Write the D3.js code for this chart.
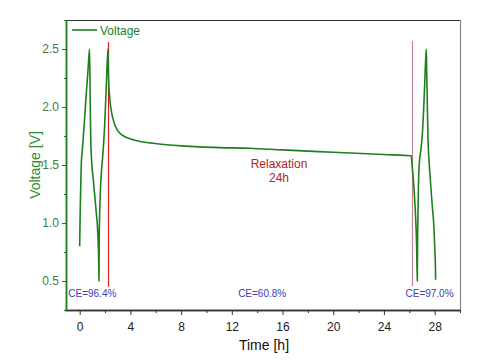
<!DOCTYPE html>
<html><head><meta charset="utf-8">
<script src="https://cdn.jsdelivr.net/npm/d3@7"></script>
<style>body{margin:0;background:#fff}svg{display:block}text{font-family:"Liberation Sans",Arial,sans-serif}</style>
</head><body><svg id="c" width="485" height="360"></svg>
<script>
const timeH = [0,0.04,0.08,0.13,0.2,0.26,0.40,0.53,0.66,0.78,
  0.83,0.87,0.95,1.05,1.18,1.30,1.40,1.47,1.50,1.52,
  1.54,1.57,1.63,1.72,1.80,1.97,2.10,2.23,
  2.28,2.35,2.45,2.6,2.76,2.95,3.2,3.5,3.85,4.3,4.8,5.8,6.84,8,9.46,11.04,13.4,16,20,24,26.16,
  26.22,26.3,26.4,26.5,26.58,26.63,
  26.65,26.69,26.72,26.78,26.9,27.02,27.12,27.21,27.34,
  27.37,27.42,27.47,27.55,27.63,27.74,27.85,27.94,28.02,28.05,28.08];
const voltage = [0.80,1.10,1.30,1.52,1.62,1.70,1.92,2.13,2.32,2.50,
  2.05,1.75,1.52,1.40,1.25,1.10,0.97,0.80,0.68,0.50,
  0.85,1.05,1.26,1.45,1.55,1.84,2.18,2.50,
  2.25,2.10,2.00,1.91,1.85,1.805,1.77,1.748,1.73,1.715,1.703,1.687,1.675,1.665,1.656,1.65,1.645,1.63,1.61,1.59,1.58,
  1.50,1.40,1.25,1.05,0.80,0.50,
  0.80,1.10,1.31,1.50,1.62,1.75,1.95,2.18,2.50,
  2.33,2.04,1.75,1.55,1.42,1.25,1.10,0.97,0.75,0.68,0.51];
const markerTimes = [2.23, 26.2];
const markerTop = [2.56, 2.57];
const markerBottom = [0.45, 0.455];
const ceLabels = ["CE=96.4%","CE=60.8%","CE=97.0%"];
const ceTimes = [-0.9, 12.5, 25.7];
const xMajorTicks = [0,4,8,12,16,20,24,28];
const xMinorTicks = [2,6,10,14,18,22,26,30];
const yMajorTicks = [0.5,1.0,1.5,2.0,2.5];
const yMinorTicks = [0.25,0.75,1.25,1.75,2.25,2.75];

const svg = d3.select("#c");
const L=67, R=460, T=20, B=310;
const x = d3.scaleLinear().domain([-1,30]).range([L,R]);
const y = d3.scaleLinear().domain([0.25,2.75]).range([B,T]);
const green = "#1f7f1f";

// frame
svg.append("line").attr("x1",L).attr("x2",R).attr("y1",T+0.5).attr("y2",T+0.5).attr("stroke","#333").attr("stroke-width",1.2);
svg.append("line").attr("x1",R+0.5).attr("x2",R+0.5).attr("y1",T).attr("y2",B).attr("stroke","#888").attr("stroke-width",1.2);

// x axis
const xg = svg.append("g").attr("transform",`translate(0,${B})`);
xg.call(d3.axisBottom(x).tickValues(xMajorTicks).tickSize(5).tickFormat(d3.format("d")));
xg.append("g").call(d3.axisBottom(x).tickValues(xMinorTicks).tickSize(3).tickFormat(""));
xg.selectAll(".domain").attr("stroke","#333").attr("stroke-width",1.3).attr("d",`M${L-2},0.5H${R}`);
xg.selectAll("line").attr("stroke","#333");
xg.selectAll("text").attr("fill","#222").attr("font-size",12).attr("dy","1.1em");

// y axis
const yg = svg.append("g").attr("transform",`translate(${L},0)`);
yg.call(d3.axisLeft(y).tickValues(yMajorTicks).tickSize(5).tickFormat(d3.format(".1f")));
yg.append("g").call(d3.axisLeft(y).tickValues(yMinorTicks).tickSize(3).tickFormat(""));
yg.selectAll(".domain").attr("stroke",green).attr("stroke-width",1.5).attr("d",`M-0.5,${T}V${B}`);
yg.selectAll("line").attr("stroke",green);
yg.selectAll("text").attr("fill","#3d7d3d").attr("font-size",12).attr("x",-8);

// axis titles
svg.append("text").attr("x",264).attr("y",350).attr("text-anchor","middle").attr("font-size",14).attr("fill","#111").text("Time [h]");
svg.append("text").attr("transform","translate(40,165) rotate(-90)").attr("text-anchor","middle").attr("font-size",14).attr("fill","#2e8b2e").text("Voltage [V]");

// marker lines
const markerColors = ["#e02020","#c9858f"];
markerTimes.forEach((t,i)=>{
  const px = Math.round(x(t)) + 0.5;
  svg.append("line").attr("x1",px).attr("x2",px).attr("y1",y(markerTop[i])).attr("y2",y(markerBottom[i]))
    .attr("stroke",markerColors[i]).attr("stroke-width",1.2);
});

// voltage line
const pts = timeH.map((t,i)=>[t,voltage[i]]);
svg.append("path").datum(pts).attr("fill","none").attr("stroke",green).attr("stroke-width",1.6)
  .attr("stroke-linejoin","round")
  .attr("d",d3.line().x(d=>x(d[0])).y(d=>y(d[1])).curve(d3.curveMonotoneX));

// annotations
svg.append("text").attr("x",279).attr("y",168).attr("text-anchor","middle").attr("font-size",12).attr("fill","#b22222").text("Relaxation");
svg.append("text").attr("x",279).attr("y",182).attr("text-anchor","middle").attr("font-size",12).attr("fill","#b22222").text("24h");
ceLabels.forEach((s,i)=>{
  svg.append("text").attr("x",x(ceTimes[i])).attr("y",297).attr("font-size",10).attr("fill","#3c3cb8").text(s);
});

// legend
svg.append("line").attr("x1",72).attr("x2",97).attr("y1",30).attr("y2",30).attr("stroke",green).attr("stroke-width",1.6);
svg.append("text").attr("x",100).attr("y",34.5).attr("font-size",12).attr("fill",green).text("Voltage");
</script></body></html>
